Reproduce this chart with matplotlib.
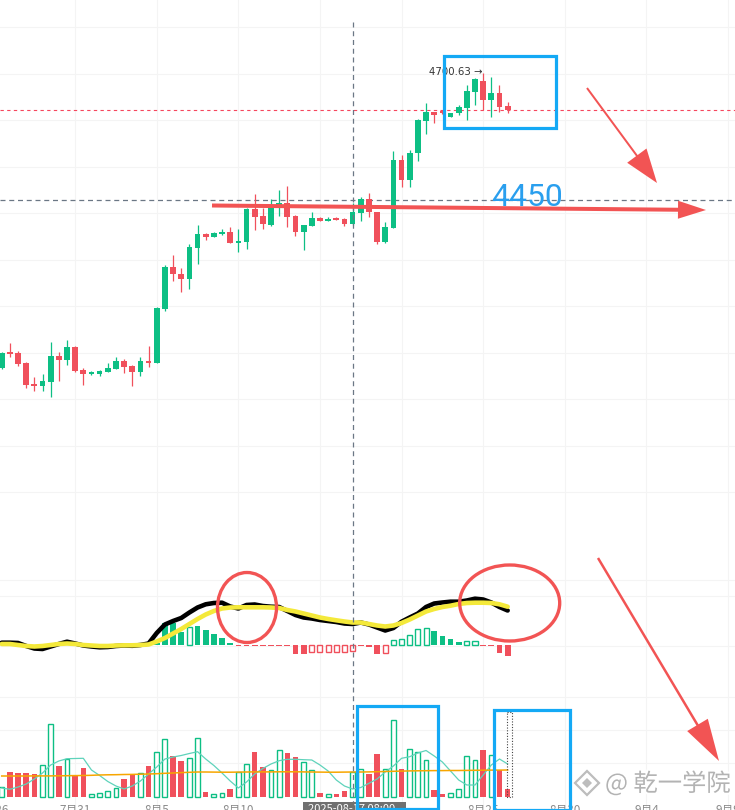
import numpy as np
import matplotlib.pyplot as plt
import matplotlib.transforms as mtransforms
from matplotlib.patches import Rectangle, Ellipse, FancyArrow, Polygon
import matplotlib.patheffects as pe

plt.rcParams['font.family'] = ['Noto Sans CJK SC', 'DejaVu Sans']

# ---------------- data (12h candles) ----------------
opens = [4067.4, 4101.1, 4099.6, 4078.1, 4032.3, 4028.0, 4037.3, 4091.9, 4084.6, 4112.5,
         4062.4, 4054.5, 4054.5, 4058.8, 4065.2, 4081.8, 4071.7, 4058.1, 4081.8, 4078.1,
         4194.3, 4284.0, 4268.9, 4258.8, 4325.5, 4355.0, 4349.2, 4355.0, 4359.3, 4336.3,
         4338.4, 4408.7, 4393.7, 4374.3, 4417.3, 4421.0, 4393.7, 4359.9, 4372.8, 4389.4,
         4383.6, 4389.4, 4387.2, 4375.8, 4400.8, 4430.3, 4402.3, 4337.8, 4368.9, 4514.1,
         4471.1, 4528.6, 4598.7, 4617.4, 4618.5, 4607.3, 4614.6, 4625.3, 4661.1, 4684.1,
         4643.2, 4657.6, 4630.3]
highs = [4101.1, 4121.2, 4102.7, 4079.0, 4048.0, 4053.8, 4122.0, 4100.5, 4127.6, 4114.0,
         4067.4, 4059.5, 4062.4, 4078.1, 4089.7, 4086.1, 4073.8, 4091.0, 4114.0, 4198.6,
         4287.6, 4309.1, 4281.2, 4332.8, 4374.3, 4357.8, 4358.6, 4365.7, 4370.7, 4366.4,
         4410.5, 4440.4, 4410.2, 4429.6, 4449.6, 4458.2, 4395.0, 4375.0, 4402.9, 4391.5,
         4391.5, 4391.5, 4388.7, 4421.0, 4435.2, 4442.5, 4403.0, 4380.8, 4533.5, 4524.2,
         4535.0, 4602.0, 4636.1, 4618.0, 4619.5, 4615.5, 4632.4, 4675.5, 4689.9, 4700.63,
         4693.3, 4675.5, 4639.5]
lows = [4065.6, 4091.0, 4071.0, 4023.1, 4017.3, 4017.3, 4005.0, 4039.4, 4073.8, 4058.8,
        4030.2, 4052.5, 4048.9, 4058.0, 4064.5, 4055.3, 4028.7, 4050.2, 4069.5, 4076.8,
        4190.0, 4253.9, 4230.8, 4236.7, 4289.8, 4342.7, 4348.5, 4353.5, 4335.5, 4316.9,
        4322.7, 4363.6, 4365.1, 4372.8, 4393.7, 4370.7, 4351.3, 4320.5, 4372.0, 4383.0,
        4383.0, 4385.0, 4372.8, 4375.0, 4383.6, 4392.2, 4333.5, 4336.3, 4368.0, 4455.4,
        4455.4, 4512.6, 4569.4, 4593.1, 4614.0, 4606.5, 4610.9, 4600.2, 4632.4, 4621.7,
        4607.3, 4618.0, 4615.9]
closes = [4099.6, 4096.8, 4075.3, 4030.2, 4028.7, 4038.8, 4092.5, 4084.6, 4111.9, 4060.9,
          4054.5, 4058.1, 4060.3, 4066.7, 4081.8, 4069.5, 4058.1, 4081.8, 4078.1, 4196.4,
          4284.0, 4268.3, 4258.8, 4327.0, 4355.0, 4349.2, 4357.1, 4359.3, 4336.3, 4339.9,
          4408.7, 4392.2, 4375.4, 4418.0, 4421.0, 4392.2, 4359.9, 4374.3, 4388.7, 4383.6,
          4387.2, 4385.7, 4375.8, 4402.3, 4430.3, 4401.6, 4337.8, 4370.0, 4514.1, 4471.1,
          4528.6, 4600.2, 4617.4, 4610.3, 4615.2, 4614.6, 4628.8, 4662.6, 4687.7, 4643.2,
          4657.6, 4628.8, 4621.7]

dif = [4.6, 4.6, 4.0, -2.0, -7.0, -8.0, -3.0, 2.0, 6.6, 3.0,
       -1.0, -3.0, -4.6, -4.0, -2.0, -1.0, -1.6, 0.0, 3.0, 24.0,
       41.0, 48.0, 54.0, 65.0, 75.0, 81.4, 84.0, 84.6, 77.0, 73.0,
       80.0, 81.0, 78.0, 76.6, 76.0, 68.0, 60.0, 55.0, 53.0, 50.0,
       48.0, 46.0, 43.0, 42.0, 45.0, 41.0, 35.0, 29.0, 34.0, 46.6,
       55.0, 63.0, 76.0, 83.0, 85.0, 86.6, 86.6, 89.0, 92.6, 91.0,
       85.0, 76.0, 69.0]
dea = [2.0, 2.0, 0.0, -2.0, -3.0, -2.0, 0.0, 2.0, 3.0, 2.0,
       0.0, -1.0, -2.0, -2.0, -1.0, -0.6, -0.6, 0.0, 1.0, 7.0,
       14.0, 23.0, 32.0, 42.0, 52.0, 61.0, 68.0, 73.0, 75.0, 75.4,
       75.4, 75.4, 75.4, 75.0, 74.0, 70.0, 67.0, 63.0, 59.0, 55.0,
       52.0, 49.4, 47.0, 45.0, 45.0, 42.0, 39.0, 37.0, 39.0, 44.0,
       51.0, 59.0, 67.0, 72.0, 76.0, 78.6, 82.0, 84.0, 84.6, 84.6,
       84.0, 81.4, 76.6]
hist = [1.0, 1.0, 0.8, -0.8, -1.5, -1.2, 2.0, 1.0, 2.5, 1.0,
        -0.8, -1.0, -1.2, -1.0, -0.6, -0.4, -0.5, 0.4, 1.2, 4.0,
        43.4, 44.6, 26.0, 36.6, 38.0, 30.0, 22.0, 13.4, 4.6, -1.0,
        -1.0, -1.0, -1.0, -1.0, -1.5, -2.0, -18.6, -18.6, -13.4, -13.4,
        -13.4, -13.4, -13.4, -11.4, -2.0, -3.0, -18.6, -16.0, 10.0, 12.0,
        20.0, 32.0, 34.0, 28.6, 18.0, 11.4, 6.0, 7.4, 7.4, -1.4,
        -2.0, -15.4, -21.4]
hist_hollow = [23, 38, 39, 40, 41, 42, 43, 47, 48, 49, 50, 51, 52, 57, 58]

volume = [93, 250, 237, 237, 227, 313, 727, 307, 377, 213,
          287, 23, 33, 53, 87, 177, 213, 233, 307, 447,
          573, 407, 357, 383, 583, 47, 23, 33, 77, 247,
          323, 447, 297, 263, 463, 440, 397, 347, 263, 37,
          23, 27, 57, 250, 273, 223, 427, 277, 767, 277,
          473, 450, 367, 67, 27, 33, 73, 407, 367, 467,
          413, 267, 80]
vol_ma5 = [87, 74, 97, 127, 177, 237, 317, 357, 380, 382,
           384, 267, 212, 152, 107, 77, 107, 157, 227, 297,
           377, 397, 412, 432, 450, 377, 312, 237, 157, 87,
           147, 227, 282, 327, 360, 374, 374, 370, 367, 317,
           257, 167, 107, 77, 92, 134, 177, 247, 307, 384,
           400, 437, 462, 407, 347, 257, 167, 117, 117, 217,
           317, 377, 327]
vol_ma10 = [207, 207, 207, 207, 208, 208, 208, 209, 210, 211,
            212, 214, 217, 219, 220, 222, 223, 225, 227, 230,
            234, 237, 241, 244, 247, 247, 246, 245, 245, 246,
            247, 248, 248, 248, 249, 249, 249, 248, 247, 246,
            245, 245, 246, 247, 247, 248, 250, 252, 254, 256,
            258, 259, 260, 261, 261, 262, 262, 263, 264, 265,
            266, 266, 267]

date_pos = [-1, 9, 19, 29, 39, 49, 59, 69, 79, 89]
date_labels = ['7月26', '7月31', '8月5', '8月10', '8月15', '8月20', '8月25', '8月30', '9月4', '9月9']
hidden_labels = ['8月15', '8月20']   # covered by the crosshair date box
cross_i = 43
cross_price = 4428
cross_label = '2025-08-17 08:00'

# ---------------- style ----------------
GREEN = '#0dbf84'
RED = '#f0505c'
GRID = '#f4f4f4'
BLUE = '#14a9f5'
ANN_RED = '#f25454'

W, H = 735, 810
fig = plt.figure(figsize=(W / 100, H / 100), dpi=100)
fig.patch.set_facecolor('white')


def panel(top, bottom, ylim):
    ax = fig.add_axes([0, 1 - bottom / H, 1, (bottom - top) / H])
    ax.set_xlim(-0.21, 89.86)
    ax.set_ylim(*ylim)
    for s in ax.spines.values():
        s.set_visible(False)
    ax.set_xticks([])
    ax.set_yticks([])
    for d in date_pos:
        ax.axvline(d, color=GRID, lw=0.8, zorder=0)
    return ax


n = len(closes)
idx = np.arange(n)
o = np.array(opens)
c = np.array(closes)
cols = [GREEN if c[i] >= o[i] else RED for i in range(n)]

# price panel
ax_p = panel(0, 545, (3686.0, 4858.3))
for lvl in range(3800, 4801, 100):
    ax_p.axhline(lvl, color=GRID, lw=0.8, zorder=0)
ax_p.vlines(idx, lows, highs, colors=cols, lw=0.9, zorder=2)
body = np.maximum(np.abs(c - o), 2.2)
ax_p.bar(idx, body, bottom=np.minimum(o, c), width=0.7, color=cols, lw=0, zorder=3)
ax_p.axhline(closes[-1], color='#f6465d', lw=0.8, ls=(0, (3, 3)), zorder=1)
ax_p.axhline(cross_price, color='#6b7785', lw=0.9, ls=(0, (4, 3)), zorder=1)
ax_p.text(58.9, 4703, '4700.63 →', ha='right', va='center', fontsize=7.3,
          color='#333333', family=['DejaVu Sans'])

# MACD panel
ax_m = panel(545, 690, (-90, 200))
for lvl in [131, 98, -2]:
    ax_m.axhline(lvl, color=GRID, lw=0.8, zorder=0)
for i in range(n):
    col = GREEN if hist[i] >= 0 else RED
    if i in hist_hollow:
        ax_m.bar(i, hist[i], width=0.62, facecolor='white', edgecolor=col, lw=1.0, zorder=2)
    else:
        ax_m.bar(i, hist[i], width=0.7, color=col, lw=0, zorder=2)
ax_m.plot(idx, dif, color='black', lw=3.3, solid_capstyle='round', zorder=3)
ax_m.plot(idx, dea, color='#f4e93a', lw=3.3, solid_capstyle='round', zorder=4)

# volume panel
ax_v = panel(690, 810, (-133, 1067))
for lvl in [1000, 667, 333]:
    ax_v.axhline(lvl, color=GRID, lw=0.8, zorder=0)
for i in range(n):
    if cols[i] == GREEN:
        ax_v.bar(i, volume[i], width=0.6, facecolor='white', edgecolor=GREEN, lw=1.0, zorder=2)
    else:
        ax_v.bar(i, volume[i], width=0.68, color=RED, lw=0, zorder=2)
ax_v.plot(idx, vol_ma5, color='#5fd3bb', lw=0.9, zorder=3)
ax_v.plot(idx, vol_ma10, color='#f7a600', lw=1.1, zorder=3)

# overlay in pixel coordinates
ov = fig.add_axes([0, 0, 1, 1], zorder=10)
ov.set_xlim(0, W)
ov.set_ylim(H, 0)
ov.axis('off')
ov.patch.set_alpha(0)
tr = mtransforms.blended_transform_factory(ax_p.transData, ov.transData)

ov.plot([cross_i, cross_i], [22, H], transform=tr, color='#6b7785', lw=0.9, ls=(0, (4, 3)), zorder=1)
for d, lab in zip(date_pos, date_labels):
    if lab in hidden_labels:
        continue
    ov.text(d, 804, lab, transform=tr, ha='center', va='top', fontsize=8.5, color='#8c8c8c', zorder=2)
ov.add_patch(Rectangle((303, 802), 103, 14, facecolor='#707070', edgecolor='none', zorder=5))
ov.text(308, 804, cross_label, ha='left', va='top', fontsize=8, color='white', zorder=6)

# hand-drawn annotations
ov.add_patch(Rectangle((444.5, 55.5), 112, 72.5, fill=False, ec=BLUE, lw=2.3, zorder=7))
ov.add_patch(Rectangle((357.5, 706), 81, 103, fill=False, ec=BLUE, lw=2.3, zorder=7))
ov.add_patch(Rectangle((494.5, 709.5), 75.5, 100, fill=False, ec=BLUE, lw=2.3, zorder=7))
ov.add_patch(Rectangle((506.7, 711.7), 5, 85, fill=False, ec='#444444', lw=0.8, ls=(0, (1, 1.5)), zorder=7))

ov.add_patch(Ellipse((247, 607.5), 59, 70, fill=False, ec=ANN_RED, lw=2.4, zorder=7))
ov.add_patch(Ellipse((509.7, 603), 100, 76, fill=False, ec=ANN_RED, lw=2.4, zorder=7))

ov.add_patch(FancyArrow(587, 88, 70, 95, width=2, head_width=24, head_length=34,
                        length_includes_head=True, color=ANN_RED, lw=0, zorder=7))
ov.add_patch(FancyArrow(212, 205.5, 494, 4.5, width=4, head_width=18, head_length=28,
                        length_includes_head=True, color=ANN_RED, lw=0, zorder=7))
ov.add_patch(FancyArrow(598, 558, 121, 203, width=2.5, head_width=24, head_length=42,
                        length_includes_head=True, color=ANN_RED, lw=0, zorder=7))

ov.text(491, 198, '4450', ha='left', va='center', fontsize=23, color='#2a9fee',
        family=['Roboto', 'DejaVu Sans'], zorder=8)

# watermark
halo = [pe.withStroke(linewidth=3, foreground='white')]
ov.add_patch(Polygon([(587, 771), (599, 783), (587, 795), (575, 783)], closed=True,
                     fill=False, ec='#bdbdbd', lw=1.6, zorder=8))
ov.add_patch(Polygon([(587, 778), (592, 783), (587, 788), (582, 783)], closed=True,
                     fc='#bdbdbd', ec='none', zorder=8))
ov.text(605, 784, '@ 乾一学院', ha='left', va='center', fontsize=17.5, color='#b3b3b3',
        path_effects=halo, zorder=8)

fig.savefig('out.png', dpi=100, facecolor='white')
